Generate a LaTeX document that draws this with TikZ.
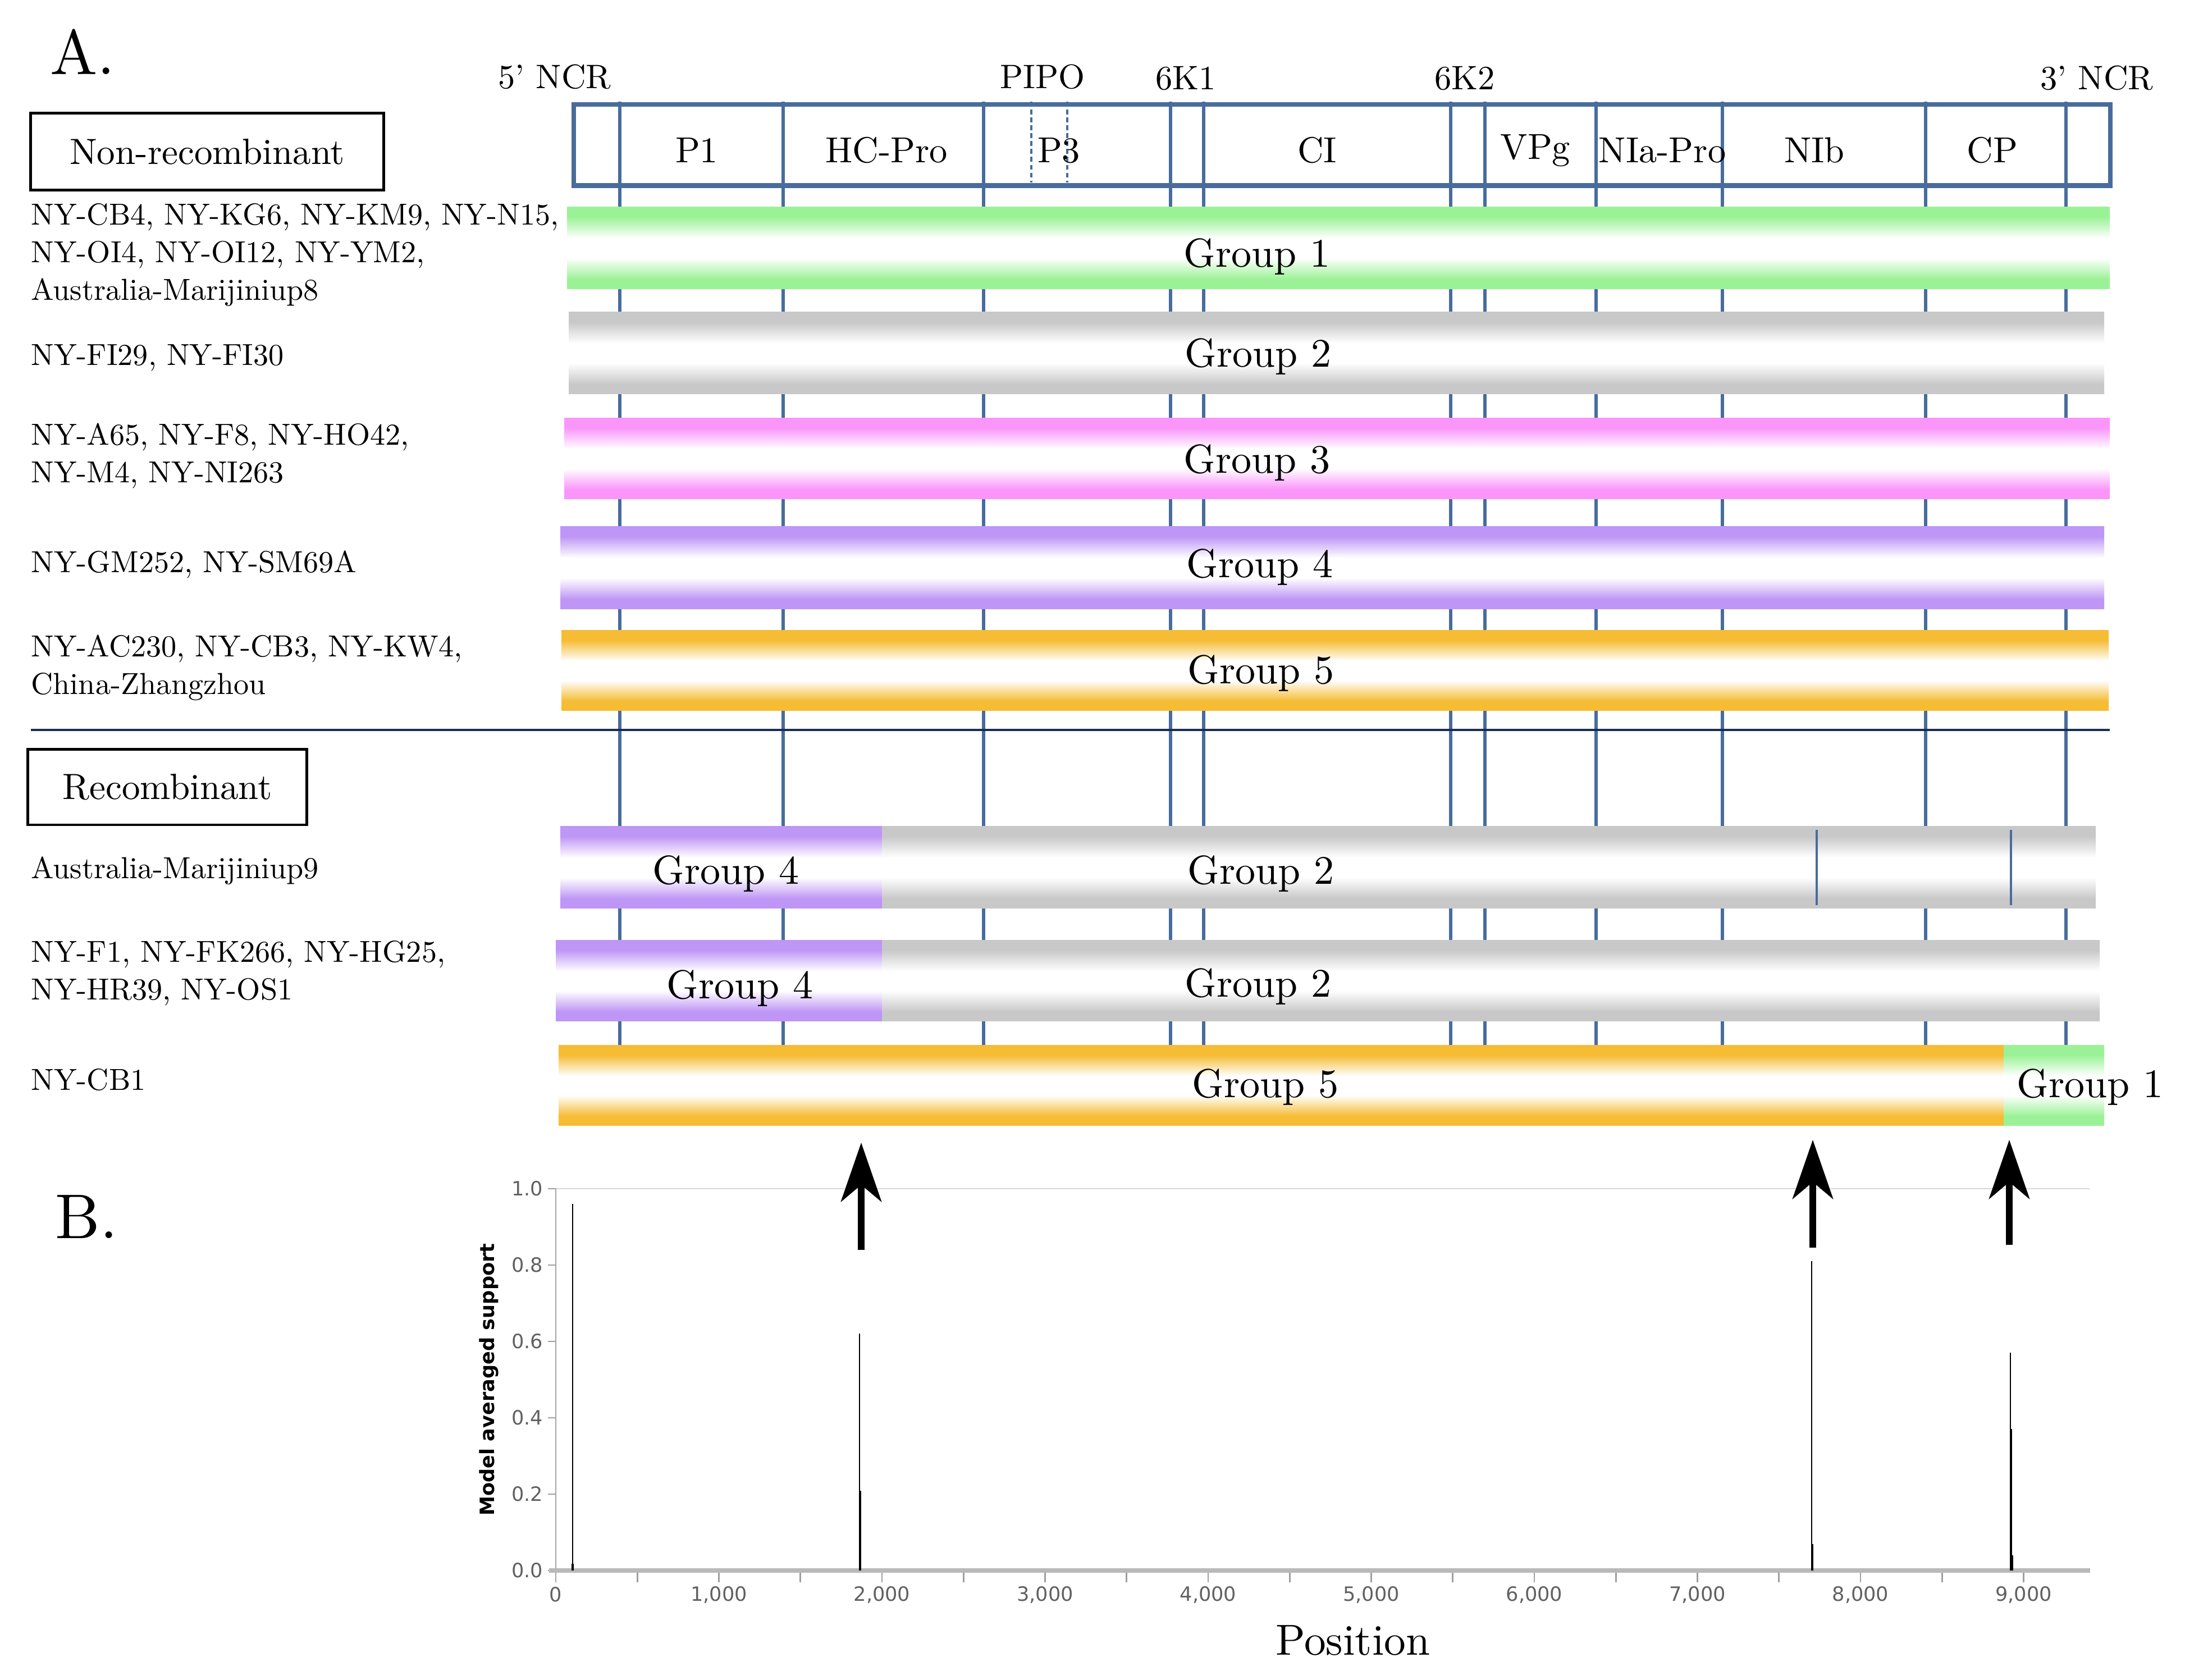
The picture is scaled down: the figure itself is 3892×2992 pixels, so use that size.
\documentclass[tikz,border=0pt]{standalone}
\usepackage{fontspec}
\setmainfont{lmroman10-regular.otf}
\newfontfamily\plotfont{DejaVu Sans}
\usetikzlibrary{arrows.meta}
\definecolor{gline}{RGB}{72,108,156}
\definecolor{navy}{RGB}{25,45,85}
\definecolor{g1col}{RGB}{155,242,150}
\definecolor{g2col}{RGB}{200,200,200}
\definecolor{g3col}{RGB}{250,150,250}
\definecolor{g4col}{RGB}{190,150,245}
\definecolor{g5col}{RGB}{245,188,52}
\pgfdeclareverticalshading{shone}{100bp}{color(0bp)=(g1col); color(31bp)=(g1col); color(44bp)=(white); color(56bp)=(white); color(69bp)=(g1col); color(100bp)=(g1col)}
\pgfdeclareverticalshading{shtwo}{100bp}{color(0bp)=(g2col); color(31bp)=(g2col); color(44bp)=(white); color(56bp)=(white); color(69bp)=(g2col); color(100bp)=(g2col)}
\pgfdeclareverticalshading{shthree}{100bp}{color(0bp)=(g3col); color(31bp)=(g3col); color(44bp)=(white); color(56bp)=(white); color(69bp)=(g3col); color(100bp)=(g3col)}
\pgfdeclareverticalshading{shfour}{100bp}{color(0bp)=(g4col); color(31bp)=(g4col); color(44bp)=(white); color(56bp)=(white); color(69bp)=(g4col); color(100bp)=(g4col)}
\pgfdeclareverticalshading{shfive}{100bp}{color(0bp)=(g5col); color(31bp)=(g5col); color(44bp)=(white); color(56bp)=(white); color(69bp)=(g5col); color(100bp)=(g5col)}
\begin{document}
\begin{tikzpicture}[x=0.01cm,y=-0.01cm,
  lbl/.style={anchor=west, align=left, inner sep=0pt, font=\fontsize{15.4}{19}\selectfont},
  grp/.style={inner sep=0pt, font=\fontsize{20.5}{24}\selectfont},
  hdr/.style={inner sep=0pt, font=\fontsize{17.2}{20}\selectfont},
  seg/.style={inner sep=0pt, font=\fontsize{18.3}{22}\selectfont},
  catbox/.style={draw, line width=1.4pt, inner sep=0pt, font=\fontsize{18.5}{22}\selectfont},
  panel/.style={inner sep=0pt, font=\fontsize{32}{36}\selectfont},
  vline/.style={gline, line width=1.7pt},
  axistick/.style={gray!75, line width=0.8pt},
  ticklbl/.style={inner sep=0pt, text=black!62, font=\plotfont\fontsize{10}{12}\selectfont},
  spike/.style={line width=0.7pt},
  bigarrow/.style={line width=3.4pt, -{Stealth[length=1.05cm,width=0.72cm,inset=0.3cm]}}]
\useasboundingbox (0,0) rectangle (3892,2992);
\fill[white] (0,0) rectangle (3892,2992);

% panel labels
\node[panel] (pa) at (147,92) {A.};
\node[panel] (pb) at (154,2167) {B.};

% vertical gene boundary lines
\foreach \x in {1104,1395,1752,2085,2144,2584,2645,2843,3068,3430,3680}
  \draw[vline] (\x,181) -- (\x,1862);
\draw[vline, line width=1.4pt, dash pattern=on 2.5pt off 1.5pt] (1837,181) -- (1837,325);
\draw[vline, line width=1.4pt, dash pattern=on 2.5pt off 1.5pt] (1901,181) -- (1901,325);

% genome box
\node[draw=gline, line width=2.4pt, minimum width=27.35cm, minimum height=1.44cm, inner sep=0pt, anchor=north west] (genome) at (1018,182) {};

% header labels
\node[hdr] (h5) at (988,137) {5’ NCR};
\node[hdr] (hpipo) at (1857,137) {PIPO};
\node[hdr] (h6k1) at (2112,140) {6K1};
\node[hdr] (h6k2) at (2609,140) {6K2};
\node[hdr] (h3) at (3735,139) {3’ NCR};

% segment labels
\node[seg] (sp1) at (1241,268) {P1};
\node[seg] (shc) at (1579,268) {HC-Pro};
\node[seg] (sp3) at (1886,268) {P3};
\node[seg] (sci) at (2346,268) {CI};
\node[seg] (svpg) at (2735,268) {VPg};
\node[seg] (snia) at (2961,268) {NIa-Pro};
\node[seg] (snib) at (3232,268) {NIb};
\node[seg] (scp) at (3549,268) {CP};

% category boxes
\node[catbox, minimum width=6.28cm, minimum height=1.37cm] (nonrec) at (369,270) {Non-recombinant};
\node[catbox, minimum width=4.96cm, minimum height=1.34cm] (rec) at (298,1402) {Recombinant};

% separator
\draw[navy, line width=1.1pt] (55,1300) -- (3758,1300);

% non-recombinant bars
\shade[shading=shone] (1010,369) rectangle (3758,515);
\shade[shading=shtwo] (1013,556) rectangle (3748,702);
\shade[shading=shthree] (1005,745) rectangle (3758,889);
\shade[shading=shfour] (998,938) rectangle (3748,1085);
\shade[shading=shfive] (1000,1123) rectangle (3756,1266);

% recombinant bars
\shade[shading=shfour] (998,1472) rectangle (1571,1618);
\shade[shading=shtwo] (1571,1472) rectangle (3733,1618);
\draw[vline, line width=1pt] (3236,1478) -- (3236,1612);
\draw[vline, line width=1pt] (3582,1478) -- (3582,1612);
\shade[shading=shfour] (990,1675) rectangle (1571,1819);
\shade[shading=shtwo] (1571,1675) rectangle (3740,1819);
\shade[shading=shfive] (995,1862) rectangle (3569,2005);
\shade[shading=shone] (3569,1862) rectangle (3748,2005);

% group labels
\node[grp] (t1) at (2239,457) {Group 1};
\node[grp] (t2) at (2241,635) {Group 2};
\node[grp] (t3) at (2239,824) {Group 3};
\node[grp] (t4) at (2244,1010) {Group 4};
\node[grp] (t5) at (2246,1199) {Group 5};
\node[grp] (r1a) at (1293,1556) {Group 4};
\node[grp] (r1b) at (2246,1556) {Group 2};
\node[grp] (r2a) at (1318,1760) {Group 4};
\node[grp] (r2b) at (2241,1757) {Group 2};
\node[grp] (r3a) at (2254,1936) {Group 5};
\node[grp] (r3b) at (3723,1936) {Group 1};

% isolate labels
\node[lbl] (l1) at (55,454) {NY-CB4, NY-KG6, NY-KM9, NY-N15,\\NY-OI4, NY-OI12, NY-YM2,\\Australia-Marijiniup8};
\node[lbl] (l2) at (55,637) {NY-FI29, NY-FI30};
\node[lbl] (l3) at (55,812) {NY-A65, NY-F8, NY-HO42,\\NY-M4, NY-NI263};
\node[lbl] (l4) at (55,1005) {NY-GM252, NY-SM69A};
\node[lbl] (l5) at (55,1189) {NY-AC230, NY-CB3, NY-KW4,\\China-Zhangzhou};
\node[lbl] (lr1) at (55,1551) {Australia-Marijiniup9};
\node[lbl] (lr2) at (55,1733) {NY-F1, NY-FK266, NY-HG25,\\NY-HR39, NY-OS1};
\node[lbl] (lr3) at (55,1923) {NY-CB1};

% plot B
\draw[gray!30, line width=0.8pt] (990,2117) -- (3723,2117);
\draw[gray!70, line width=0.8pt] (990,2117) -- (990,2818);
\foreach \v/\t in {0/0.0,1/0.2,2/0.4,3/0.6,4/0.8,5/1.0} {
  \draw[axistick] (976,2797-\v*136) -- (990,2797-\v*136);
  \node[ticklbl, anchor=east] at (968,2797-\v*136) {\t};
}
\foreach \i in {1,...,18}
  \draw[axistick] (990+\i*145.25,2797) -- (990+\i*145.25,2818);
\foreach \i/\t in {0/0,1/{1,000},2/{2,000},3/{3,000},4/{4,000},5/{5,000},6/{6,000},7/{7,000},8/{8,000},9/{9,000}}
  \node[ticklbl] at (990+\i*290.5,2840) {\t};
\draw[gray!55, line width=2pt] (978,2797) -- (3723,2797);

% spikes
\draw[spike] (1020,2797) -- (1020,2144);
\draw[line width=1.2pt] (1020,2797) -- (1020,2785);
\draw[spike] (1531,2797) -- (1531,2375);
\draw[line width=1.2pt] (1532,2797) -- (1532,2655);
\draw[spike] (3227,2797) -- (3227,2246);
\draw[line width=1.3pt] (3228,2797) -- (3228,2750);
\draw[spike] (3581,2797) -- (3581,2409);
\draw[line width=0.9pt] (3582,2797) -- (3582,2545);
\draw[line width=1.3pt] (3584,2797) -- (3584,2770);

\node[rotate=90, inner sep=0pt, font=\plotfont\bfseries\fontsize{10}{12}\selectfont] (ylab) at (871,2457) {Model averaged support};
\node[inner sep=0pt, font=\fontsize{22}{26}\selectfont] (xlab) at (2410,2921) {Position};

% arrows
\coordinate (a1s) at (1534,2226); \coordinate (a1e) at (1534,2035);
\coordinate (a2s) at (3229,2222); \coordinate (a2e) at (3229,2030);
\coordinate (a3s) at (3579,2217); \coordinate (a3e) at (3579,2030);
\draw[bigarrow] (a1s) -- (a1e);
\draw[bigarrow] (a2s) -- (a2e);
\draw[bigarrow] (a3s) -- (a3e);
\end{tikzpicture}
\end{document}
